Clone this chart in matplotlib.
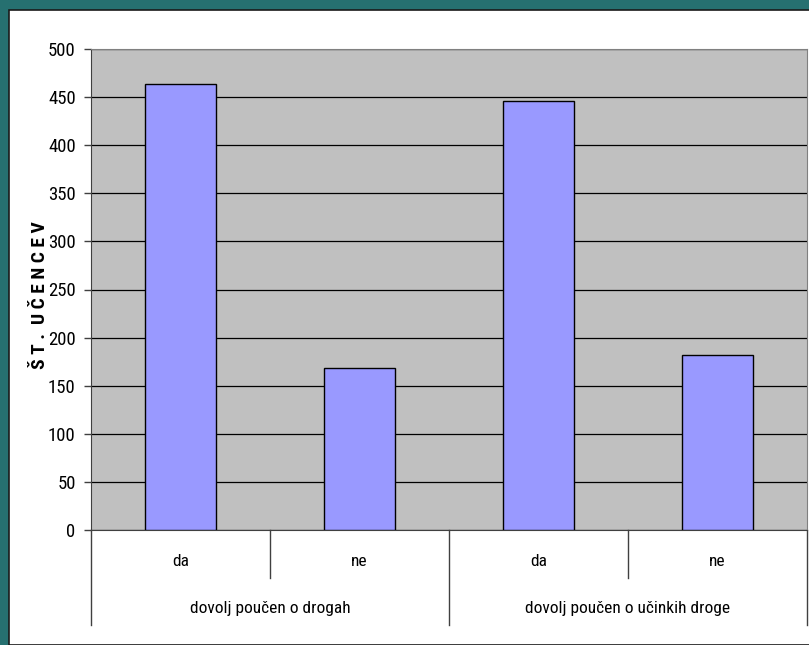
import matplotlib.pyplot as plt
import matplotlib.patches as patches
import matplotlib.transforms as transforms

plt.rcParams['font.family'] = ['Liberation Sans Narrow', 'Roboto Condensed', 'Archivo Narrow',
                               'Liberation Sans', 'DejaVu Sans']

# data
groups = ["dovolj poučen o drogah", "dovolj poučen o učinkih droge"]
answers = ["da", "ne"]
values = [464, 168, 446, 182]
y_ticks = [0, 50, 100, 150, 200, 250, 300, 350, 400, 450, 500]

W, H = 809, 645
fig = plt.figure(figsize=(W / 100, H / 100), dpi=100)
fig.patch.set_facecolor('#267070')

# white panel with dark edge, kept behind the axes
panel = patches.Rectangle((9 / W, 0), 1, 1 - 10 / H, transform=fig.transFigure,
                          facecolor='white', edgecolor='#1a1a1a', linewidth=1.2, zorder=-10)
fig.patches.append(panel)

ax = fig.add_axes([91 / W, (H - 530) / H, (807 - 91) / W, (530 - 49) / H])
ax.set_zorder(5)
ax.set_facecolor('#c0c0c0')

x = list(range(len(values)))
ax.bar(x, values, width=0.4, color='#9999ff', edgecolor='black', linewidth=1, zorder=3)

ax.set_xlim(-0.5, len(values) - 0.5)
ax.set_ylim(0, 500)
ax.set_yticks(y_ticks)
ax.set_yticklabels([str(t) for t in y_ticks], fontsize=13.5)
ax.yaxis.grid(True, color='black', linewidth=0.9, zorder=1)
ax.set_axisbelow(True)
ax.tick_params(axis='y', length=5, width=1, color='#404040', pad=6)
ax.set_xticks([])

for s in ['top', 'right']:
    ax.spines[s].set_color('#808080')
ax.spines['left'].set_color('#404040')
ax.spines['bottom'].set_color('#404040')

ax.set_ylabel("Š T .  U Č E N C E V", fontsize=14, fontweight='bold')
ax.yaxis.set_label_coords((49 - 91) / 716, (530 - 295) / 481)

# multi-level category axis below
trans = transforms.blended_transform_factory(ax.transData, ax.transAxes)
px = 1 / (530 - 49)  # one pixel in axes units
labels = answers * len(groups)
for i, lab in enumerate(labels):
    ax.text(i, -32 * px, lab, transform=trans, ha='center', va='center', fontsize=12.5)
for i in range(len(values) + 1):
    xe = i - 0.5
    depth = 95 if i % 2 == 0 else 48
    ax.plot([xe, xe], [0, -depth * px], transform=trans, color='#404040',
            linewidth=1, clip_on=False)
for g, name in enumerate(groups):
    xc = g * len(answers) + (len(answers) - 1) / 2
    ax.text(xc, -79 * px, name, transform=trans, ha='center', va='center', fontsize=12.5)

fig.savefig('out.png', dpi=100, facecolor=fig.get_facecolor())
